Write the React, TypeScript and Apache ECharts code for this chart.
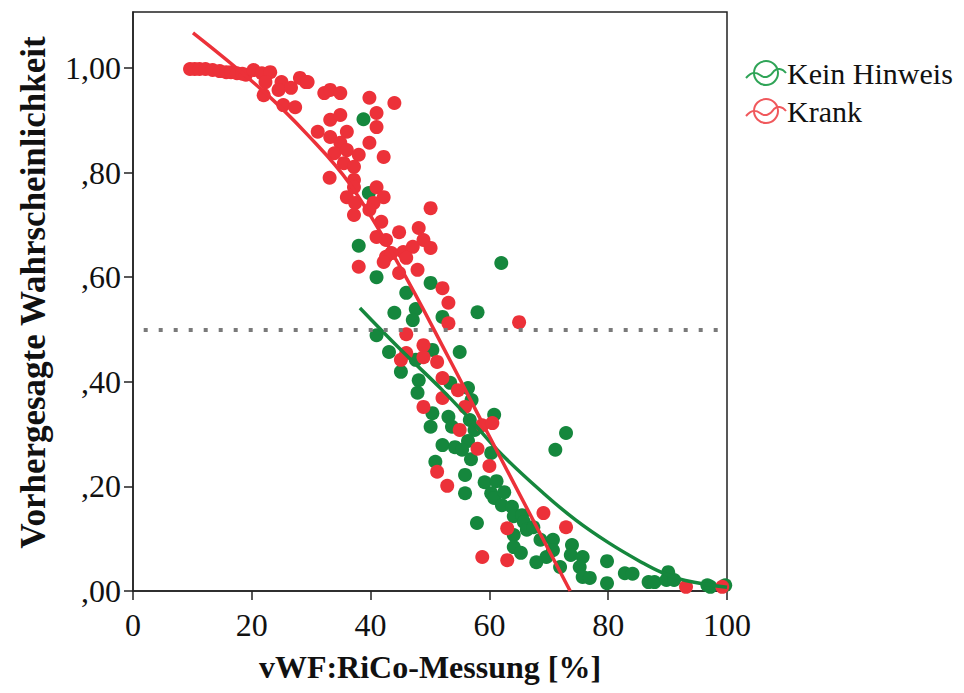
import React, { useEffect, useRef } from "react";
import * as echarts from "echarts";

// Scatter data: [vWF:RiCo %, predicted probability]
const keinHinweisPoints: [number, number][] = [
  [38.8, 0.902], [39.7, 0.761], [38.0, 0.66], [62.0, 0.627], [41.0, 0.6], [46.0, 0.57],
  [50.1, 0.589], [44.0, 0.532], [47.6, 0.539], [47.1, 0.518], [52.1, 0.524], [58.0, 0.533],
  [41.0, 0.489], [43.1, 0.457], [50.4, 0.461], [55.0, 0.457], [47.6, 0.442], [45.1, 0.419],
  [48.1, 0.403], [53.4, 0.398], [56.4, 0.388], [57.0, 0.365], [47.9, 0.379], [50.4, 0.34],
  [53.1, 0.333], [60.8, 0.337], [56.7, 0.327], [50.1, 0.314], [53.7, 0.314], [57.5, 0.308],
  [52.1, 0.279], [54.2, 0.275], [56.4, 0.287], [60.3, 0.264], [55.4, 0.27], [56.9, 0.252],
  [50.9, 0.247], [55.9, 0.222], [59.2, 0.208], [61.2, 0.21], [55.9, 0.187], [60.3, 0.187],
  [72.9, 0.302], [71.1, 0.27], [60.8, 0.178], [62.5, 0.189], [62.1, 0.164], [63.8, 0.161],
  [64.1, 0.143], [65.5, 0.145], [65.8, 0.132], [66.3, 0.117], [67.4, 0.122], [57.9, 0.13],
  [64.1, 0.107], [64.1, 0.084], [65.3, 0.073], [68.6, 0.098], [70.7, 0.098], [70.7, 0.078],
  [69.6, 0.065], [71.9, 0.046], [73.9, 0.088], [73.7, 0.069], [75.7, 0.065], [75.2, 0.046],
  [75.7, 0.027], [76.9, 0.025], [79.8, 0.057], [79.8, 0.015], [67.9, 0.055], [82.8, 0.034],
  [84.1, 0.033], [86.8, 0.017], [87.8, 0.017], [90.1, 0.036], [89.8, 0.021], [91.1, 0.021],
  [96.7, 0.011], [97.2, 0.008], [99.7, 0.011],
];

const krankPoints: [number, number][] = [
  [9.6, 0.998], [10.4, 0.998], [11.2, 0.998], [12.2, 0.998], [13.4, 0.996], [14.6, 0.994],
  [15.7, 0.992], [16.5, 0.992], [17.5, 0.99], [18.4, 0.989], [19.0, 0.987], [20.3, 0.996],
  [21.7, 0.99], [23.1, 0.992], [22.3, 0.973], [25.0, 0.973], [28.1, 0.981], [29.1, 0.973],
  [22.0, 0.948], [24.5, 0.958], [26.6, 0.962], [25.3, 0.929], [27.3, 0.925],
  [29.4, 0.973], [32.2, 0.952], [33.2, 0.958], [34.9, 0.952], [39.8, 0.943], [44.0, 0.933],
  [33.2, 0.901], [34.9, 0.91], [41.0, 0.914], [41.0, 0.887], [31.1, 0.878], [33.2, 0.868],
  [36.0, 0.878], [34.9, 0.857], [39.8, 0.857], [33.9, 0.837], [36.0, 0.843], [38.0, 0.834],
  [42.2, 0.83], [35.5, 0.818], [37.2, 0.811], [33.1, 0.79], [37.2, 0.786], [37.2, 0.772],
  [41.0, 0.772], [36.0, 0.753], [42.2, 0.753], [37.4, 0.742], [40.5, 0.742], [50.1, 0.732],
  [37.2, 0.719], [39.8, 0.729], [41.8, 0.706], [41.0, 0.677], [42.6, 0.671], [44.8, 0.686],
  [48.1, 0.694], [48.9, 0.671], [50.1, 0.656], [42.6, 0.639], [45.5, 0.648], [47.1, 0.658],
  [43.5, 0.646], [42.2, 0.629], [46.0, 0.637], [38.0, 0.62], [44.8, 0.608], [47.9, 0.614],
  [52.1, 0.579], [53.1, 0.551], [53.1, 0.512], [65.0, 0.514], [46.0, 0.491], [48.9, 0.47],
  [46.0, 0.455], [45.1, 0.442], [48.9, 0.447], [51.2, 0.438], [52.1, 0.407], [54.7, 0.384],
  [52.1, 0.369], [48.9, 0.352], [55.9, 0.352], [58.8, 0.317], [60.5, 0.321], [55.0, 0.308],
  [58.0, 0.272], [51.2, 0.228], [60.0, 0.239], [52.9, 0.201], [58.8, 0.065], [63.0, 0.059],
  [69.1, 0.149], [63.0, 0.12], [72.9, 0.122], [93.1, 0.008], [99.2, 0.008],
];

// Fit curves
const keinHinweisFit: [number, number][] = [
  [38.2, 0.541], [45, 0.462], [52, 0.385], [57, 0.325], [62, 0.262], [69.1, 0.187],
  [74.5, 0.136], [80.1, 0.092], [85.6, 0.055], [88.9, 0.036], [93, 0.02], [100, 0.007],
];
const krankFit: [number, number][] = [
  [10.1, 1.067], [21.7, 0.958], [29.4, 0.872], [36.5, 0.778], [44.8, 0.623],
  [53.1, 0.447], [59.7, 0.302], [73.6, 0.0],
];

const seriesNames = ["Kein Hinweis", "Krank"];
const referenceLevel = 0.5;
const referenceSpan = [1.8, 99.2];
const xRange = [0, 100];
const yRange = [0, 1.107];

const GREEN = "#15873d";
const RED = "#ec3139";
const GREEN_LEGEND = "#2fa457";
const RED_LEGEND = "#f0585c";
const FONT = "'Liberation Serif', 'Times New Roman', serif";

const legendIcon =
  "path://M8,14 A12,12 0 1,1 32,14 A12,12 0 1,1 8,14 Z M0,19 C6,12 10,13 14,16 C19,20 24,18 28,12 C31,9 36,9 40,14";

export default function App() {
  const ref = useRef<HTMLDivElement>(null);

  useEffect(() => {
    if (!ref.current) return;
    const chart = echarts.init(ref.current, undefined, { renderer: "svg" });
    const fmtY = (v: number) => {
      const s = v.toFixed(2).replace(".", ",");
      return s.startsWith("0") ? s.slice(1) : s;
    };
    chart.setOption({
      animation: false,
      backgroundColor: "#fff",
      textStyle: { fontFamily: FONT },
      grid: {
        left: 114,
        right: 237,
        top: 4,
        bottom: 102,
        show: true,
        borderColor: "#222",
        borderWidth: 1.5,
        containLabel: false,
      },
      legend: {
        left: 732,
        top: 45,
        orient: "vertical",
        itemWidth: 40,
        itemHeight: 28,
        itemGap: 8,
        textStyle: { fontFamily: FONT, fontSize: 30, color: "#111", padding: [0, 0, 0, -4] },
        data: [
          {
            name: seriesNames[0],
            icon: legendIcon,
            itemStyle: { color: "rgba(0,0,0,0)", borderColor: GREEN_LEGEND, borderWidth: 2 },
          },
          {
            name: seriesNames[1],
            icon: legendIcon,
            itemStyle: { color: "rgba(0,0,0,0)", borderColor: RED_LEGEND, borderWidth: 2 },
          },
        ],
      },
      xAxis: {
        type: "value",
        min: xRange[0],
        max: xRange[1],
        interval: 20,
        name: "vWF:RiCo-Messung [%]",
        nameLocation: "middle",
        nameGap: 60,
        nameTextStyle: { fontFamily: FONT, fontSize: 32, fontWeight: "bold", color: "#111" },
        axisLine: { show: true, onZero: false, lineStyle: { color: "#222", width: 1.5 } },
        axisTick: { show: true, inside: false, length: 9, lineStyle: { color: "#222", width: 1.5 } },
        axisLabel: { fontFamily: FONT, fontSize: 32, color: "#111", margin: 18 },
        splitLine: { show: false },
      },
      yAxis: {
        type: "value",
        min: yRange[0],
        max: yRange[1],
        interval: 0.2,
        name: "Vorhergesagte Wahrscheinlichkeit",
        nameLocation: "middle",
        nameGap: 82,
        nameRotate: 90,
        nameTextStyle: {
          fontFamily: FONT,
          fontSize: 35,
          fontWeight: "bold",
          color: "#111",
          padding: [0, 0, 0, 18],
        },
        axisLine: { show: true, onZero: false, lineStyle: { color: "#222", width: 1.5 } },
        axisTick: { show: true, inside: false, length: 9, lineStyle: { color: "#222", width: 1.5 } },
        axisLabel: {
          fontFamily: FONT,
          fontSize: 32,
          color: "#111",
          margin: 12,
          showMaxLabel: false,
          formatter: fmtY,
        },
        splitLine: { show: false },
      },
      series: [
        {
          name: seriesNames[0],
          type: "scatter",
          data: keinHinweisPoints,
          symbol: "circle",
          symbolSize: 14,
          itemStyle: { color: GREEN, opacity: 1 },
          z: 2,
        },
        {
          name: seriesNames[1],
          type: "scatter",
          data: krankPoints,
          symbol: "circle",
          symbolSize: 14,
          itemStyle: { color: RED, opacity: 1 },
          z: 3,
        },
        {
          name: "fit-kein",
          type: "line",
          data: keinHinweisFit,
          smooth: 0.4,
          showSymbol: false,
          symbol: "none",
          lineStyle: { color: GREEN, width: 3.5 },
          z: 4,
        },
        {
          name: "fit-krank",
          type: "line",
          data: krankFit,
          smooth: 0.4,
          showSymbol: false,
          symbol: "none",
          lineStyle: { color: RED, width: 3.5 },
          z: 5,
          markLine: {
            silent: true,
            symbol: "none",
            label: { show: false },
            lineStyle: { type: [4, 11], width: 4, color: "#7a7a7a" },
            data: [
              [
                { coord: [referenceSpan[0], referenceLevel] },
                { coord: [referenceSpan[1], referenceLevel] },
              ],
            ],
          },
        },
      ],
    });
    return () => chart.dispose();
  }, []);

  return <div ref={ref} style={{ width: 956, height: 685 }} />;
}
